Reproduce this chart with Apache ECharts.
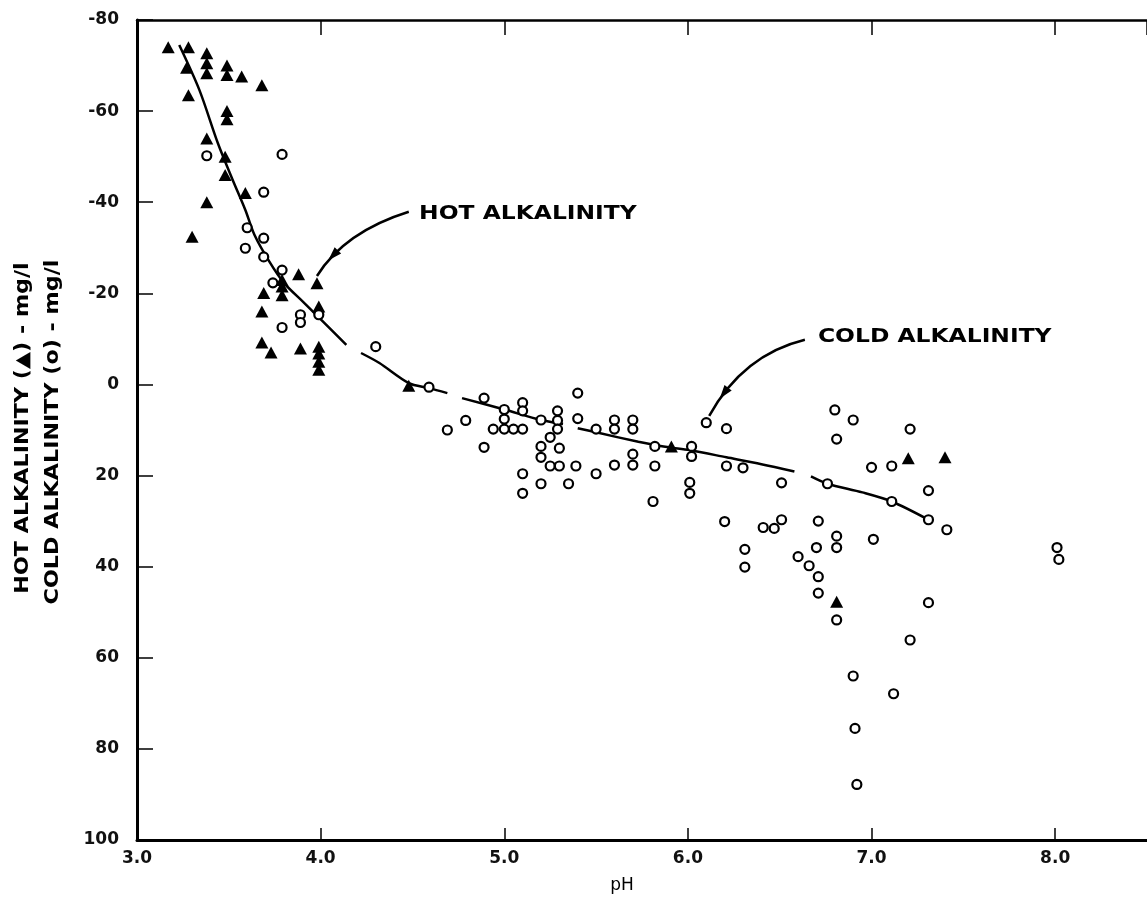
<!DOCTYPE html>
<html>
<head>
<meta charset="utf-8">
<script src="https://cdn.jsdelivr.net/npm/echarts@6/dist/echarts.min.js"></script>
<style>
html, body { margin: 0; padding: 0; background: #fff; }
#chart { width: 1147px; height: 901px; }
</style>
</head>
<body>
<div id="chart"></div>
<script>
// hot alkalinity (triangles), [pH, mg/l]
const hotPoints = [
  [3.17, -74], [3.28, -74], [3.27, -69.5], [3.38, -72.7], [3.38, -70.5], [3.38, -68.3],
  [3.49, -70], [3.49, -67.9], [3.57, -67.6], [3.68, -65.7], [3.28, -63.5], [3.49, -60],
  [3.49, -58.2], [3.38, -54], [3.48, -50], [3.48, -46], [3.59, -42], [3.38, -40],
  [3.30, -32.4], [3.88, -24.2], [3.79, -22.9], [3.79, -21.5], [3.79, -19.6], [3.98, -22.2],
  [3.69, -20.1], [3.68, -16], [3.99, -17.1], [3.68, -9.2], [3.73, -7], [3.89, -7.9],
  [3.99, -8.3], [3.99, -6.8], [3.99, -5], [3.99, -3.2], [4.48, 0.3], [5.91, 13.6],
  [7.2, 16.2], [7.4, 16], [6.81, 47.7]
]

// cold alkalinity (open circles), [pH, mg/l]
const coldPoints = [
  [3.38, -50.2], [3.79, -50.5], [3.69, -42.2], [3.60, -34.4], [3.69, -32.1], [3.59, -29.9],
  [3.69, -28], [3.79, -25.1], [3.74, -22.3], [3.89, -15.3], [3.89, -13.6], [3.99, -15.3],
  [3.79, -12.5], [4.30, -8.3], [4.59, 0.6], [4.89, 3.0], [5.0, 5.5], [5.1, 4.0],
  [5.1, 5.8], [5.2, 7.8], [5.29, 5.8], [5.29, 7.9], [5.29, 9.8], [5.4, 1.9],
  [5.4, 7.5], [4.79, 7.9], [4.69, 10], [4.94, 9.8], [5.0, 9.8], [5.05, 9.8],
  [5.1, 9.8], [5.0, 7.6], [4.89, 13.8], [5.25, 11.6], [5.2, 13.6], [5.3, 14],
  [5.2, 16], [5.25, 17.9], [5.3, 17.9], [5.39, 17.9], [5.1, 19.6], [5.2, 21.8],
  [5.35, 21.8], [5.1, 23.9], [5.5, 19.6], [5.5, 9.8], [5.6, 7.8], [5.6, 9.8],
  [5.6, 17.7], [5.7, 7.8], [5.7, 9.8], [5.7, 15.3], [5.7, 17.7], [5.82, 13.6],
  [5.82, 17.9], [5.81, 25.7], [6.02, 13.6], [6.02, 15.8], [6.1, 8.4], [6.21, 9.7],
  [6.01, 21.5], [6.01, 23.9], [6.21, 17.9], [6.3, 18.3], [6.51, 21.6], [6.76, 21.8],
  [6.8, 5.6], [6.9, 7.8], [6.81, 12], [6.2, 30.1], [6.41, 31.4], [6.47, 31.6],
  [6.51, 29.7], [6.71, 30], [7.21, 9.8], [7.0, 18.2], [7.11, 17.9], [7.31, 23.3],
  [7.11, 25.7], [7.31, 29.7], [7.41, 31.9], [7.01, 34], [6.31, 36.2], [6.31, 40.1],
  [6.70, 35.8], [6.81, 33.3], [6.81, 35.8], [6.6, 37.8], [6.66, 39.8], [6.71, 42.2],
  [6.71, 45.8], [6.81, 51.7], [7.31, 47.9], [7.21, 56.1], [6.9, 64], [7.12, 67.9],
  [6.91, 75.5], [6.92, 87.8], [8.01, 35.8], [8.02, 38.4]
]

// hand drawn fit line, '-' = break in the line
const fitCurve = [
  [3.23, -74.5], [3.34, -64.6], [3.44, -53], [3.52, -45], [3.59, -38.3], [3.64, -32.8],
  [3.72, -27], [3.80, -22.3], [3.91, -17.9], [4.02, -13.5], [4.14, -8.7],
  [4.18, '-'],
  [4.22, -6.9], [4.32, -4.7], [4.48, -0.3], [4.59, 0.8], [4.69, 1.9],
  [4.73, '-'],
  [4.77, 3.0], [5.0, 5.5], [5.2, 7.8], [5.32, 8.7],
  [5.36, '-'],
  [5.4, 9.6], [5.5, 10.5], [5.73, 12.6], [5.82, 13.3], [5.93, 14.0], [6.02, 14.5],
  [6.21, 16.0], [6.4, 17.5], [6.58, 19.1],
  [6.62, '-'],
  [6.67, 20.2], [6.76, 21.8], [6.95, 23.7], [7.11, 25.7], [7.31, 29.7]
]

const xMin = 3.0
const xMax = 8.5
const yMin = -80
const yMax = 100

const FONT = 'DejaVu Sans'

const chart = echarts.init(document.getElementById('chart'))

const tickLabel = {
  fontFamily: FONT,
  fontWeight: 'bold',
  fontSize: 17,
  color: '#111'
}

chart.setOption({
  animation: false,
  backgroundColor: '#fff',
  grid: {
    left: 137,
    top: 20,
    width: 1013,
    height: 820
  },
  xAxis: [{
    type: 'value',
    position: 'bottom',
    min: xMin,
    max: xMax,
    interval: 1,
    axisLine: { onZero: false, lineStyle: { color: '#000', width: 3 } },
    axisTick: { inside: true, length: 12, lineStyle: { color: '#000', width: 1.5 } },
    axisLabel: Object.assign({
      margin: 10,
      showMaxLabel: false,
      formatter: v => v.toFixed(1)
    }, tickLabel),
    splitLine: { show: false }
  }, {
    type: 'value',
    position: 'top',
    min: xMin,
    max: xMax,
    interval: 1,
    axisLine: { onZero: false, lineStyle: { color: '#000', width: 2.5 } },
    axisTick: { inside: true, length: 15, lineStyle: { color: '#000', width: 1.5 } },
    axisLabel: { show: false },
    splitLine: { show: false }
  }],
  yAxis: {
    type: 'value',
    inverse: true,
    min: yMin,
    max: yMax,
    interval: 20,
    axisLine: { onZero: false, lineStyle: { color: '#000', width: 3 } },
    axisTick: { inside: true, length: 16, lineStyle: { color: '#000', width: 1.5 } },
    axisLabel: Object.assign({ margin: 18 }, tickLabel),
    splitLine: { show: false }
  },
  series: [{
    name: 'fit',
    type: 'line',
    data: fitCurve,
    smooth: 0.3,
    symbol: 'none',
    connectNulls: false,
    lineStyle: { color: '#000', width: 2.5 },
    z: 2
  }, {
    name: 'hot',
    type: 'scatter',
    data: hotPoints,
    symbol: 'triangle',
    symbolSize: [13, 12],
    itemStyle: { color: '#000', opacity: 1 },
    z: 3
  }, {
    name: 'cold',
    type: 'scatter',
    data: coldPoints,
    symbol: 'circle',
    symbolSize: 9,
    itemStyle: { color: '#fff', borderColor: '#000', borderWidth: 2.2, opacity: 1 },
    z: 4
  }]
})

// annotations: label anchor + quadratic arrow, all in data units
const notes = [
  { text: 'HOT ALKALINITY', at: [4.536, -37.4], arrow: [[4.48, -37.9], [4.13, -33.5], [3.98, -23.8]], t: 0.75 },
  { text: 'COLD ALKALINITY', at: [6.708, -10.4], arrow: [[6.637, -9.8], [6.30, -6.5], [6.116, 6.9]], t: 0.8 }
]

function px (p) {
  return chart.convertToPixel({ gridIndex: 0 }, p)
}

let graphics = []
notes.forEach(n => {
  const a = px(n.at)
  const p0 = px(n.arrow[0])
  const c = px(n.arrow[1])
  const p2 = px(n.arrow[2])
  graphics.push({
    type: 'text',
    x: a[0],
    y: a[1],
    scaleX: 1.17,
    style: {
      text: n.text,
      fill: '#000',
      font: 'bold 20px "' + FONT + '"',
      align: 'left',
      verticalAlign: 'middle'
    }
  })
  graphics.push({
    type: 'bezierCurve',
    shape: { x1: p0[0], y1: p0[1], cpx1: c[0], cpy1: c[1], x2: p2[0], y2: p2[1] },
    style: { stroke: '#000', lineWidth: 2.5, fill: null }
  })
  // arrow head on the curve, pointing to the end
  const t = n.t
  const u = 1 - t
  const hx = u * u * p0[0] + 2 * u * t * c[0] + t * t * p2[0]
  const hy = u * u * p0[1] + 2 * u * t * c[1] + t * t * p2[1]
  let dx = 2 * u * (c[0] - p0[0]) + 2 * t * (p2[0] - c[0])
  let dy = 2 * u * (c[1] - p0[1]) + 2 * t * (p2[1] - c[1])
  const len = Math.sqrt(dx * dx + dy * dy)
  dx /= len
  dy /= len
  const L = 14
  const W = 4.5
  graphics.push({
    type: 'polygon',
    shape: {
      points: [
        [hx + dx * L / 2, hy + dy * L / 2],
        [hx - dx * L / 2 - dy * W, hy - dy * L / 2 + dx * W],
        [hx - dx * L / 2 + dy * W, hy - dy * L / 2 - dx * W]
      ]
    },
    style: { fill: '#000' }
  })
})

// axis titles
graphics.push({
  type: 'text',
  x: 23,
  y: 428,
  rotation: Math.PI / 2,
  scaleX: 1.17,
  style: {
    text: 'HOT ALKALINITY (\u25B2) - mg/l',
    fill: '#000',
    font: 'bold 19px "' + FONT + '"',
    align: 'center',
    verticalAlign: 'middle'
  }
})
graphics.push({
  type: 'text',
  x: 53,
  y: 432,
  rotation: Math.PI / 2,
  scaleX: 1.17,
  style: {
    text: 'COLD ALKALINITY (o) - mg/l',
    fill: '#000',
    font: 'bold 19px "' + FONT + '"',
    align: 'center',
    verticalAlign: 'middle'
  }
})
graphics.push({
  type: 'text',
  x: 622,
  y: 886,
  style: {
    text: 'pH',
    fill: '#000',
    font: '17px "' + FONT + '"',
    align: 'center',
    verticalAlign: 'middle'
  }
})

chart.setOption({ graphic: graphics })
</script>
</body>
</html>
